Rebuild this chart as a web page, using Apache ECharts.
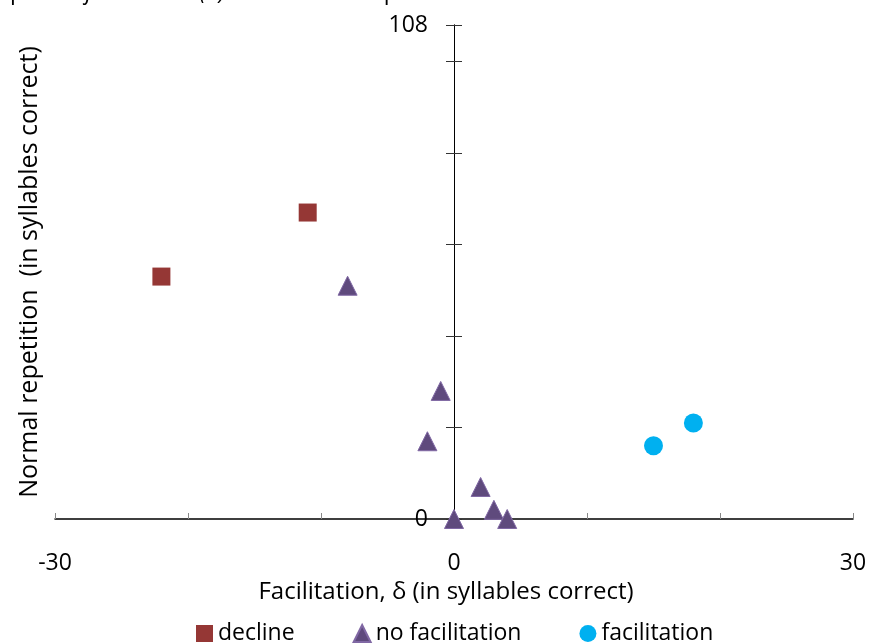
<!DOCTYPE html>
<html>
<head>
<meta charset="utf-8">
<script src="https://cdn.jsdelivr.net/npm/echarts@6/dist/echarts.min.js"></script>
<style>html,body{margin:0;padding:0;background:#fff}#c{width:869px;height:644px}</style>
</head>
<body>
<div id="c"></div>
<script>
const seriesNames = ['decline', 'no facilitation', 'facilitation'];
const declineData = [[-22, 53], [-11, 67]];
const noFacData = [[-8, 51], [-1, 28], [-2, 17], [2, 7], [3, 2], [4, 0], [0, 0]];
const facData = [[15, 16], [18, 21]];
const xTickLabels = [-30, 0, 30];
const yTickLabels = [0, 108];

const FONT = 'Open Sans';
const FS = 23;
const chart = echarts.init(document.getElementById('c'));
const Y = { min: 0, max: 108, interval: 20 };
const X = { min: -30, max: 30, interval: 10 };
const option = {
  backgroundColor: '#fff',
  animation: false,
  textStyle: { fontFamily: FONT, color: '#000' },
  graphic: [{
    type: 'text', left: 10, top: -19,
    style: {
      text: 'plot of {i|facilitation (δ)} and normal repetition.',
      fontFamily: FONT, fontSize: FS, fill: '#000',
      rich: { i: { fontStyle: 'italic', fontFamily: FONT, fontSize: FS } }
    }
  }],
  grid: [
    { left: 55, right: 16, top: 25, bottom: 125, outerBoundsMode: 'none' },
    { left: 454, right: 16, top: 25, bottom: 125, outerBoundsMode: 'none' },
    { left: 55, right: 415, top: 25, bottom: 125, outerBoundsMode: 'none' }
  ],
  legend: {
    data: seriesNames,
    left: 196, top: 622, padding: 0,
    itemWidth: 17, itemHeight: 17, itemGap: 58,
    textStyle: { fontFamily: FONT, fontSize: FS, color: '#000' }
  },
  xAxis: [{
    gridIndex: 0, type: 'value', min: X.min, max: X.max, interval: X.interval,
    name: 'Facilitation, δ (in syllables correct)',
    nameLocation: 'middle', nameGap: 61,
    nameTextStyle: { fontFamily: FONT, fontSize: 24, color: '#000', padding: [0, 16, 0, 0] },
    axisLine: { onZero: false, lineStyle: { color: '#000', width: 1.5 } },
    axisTick: { show: true, inside: true, length: 6, lineStyle: { color: '#888' } },
    axisLabel: {
      margin: 33, fontFamily: FONT, fontSize: FS, color: '#000',
      formatter: v => (xTickLabels.indexOf(v) >= 0 ? String(v) : '')
    },
    splitLine: { show: false }
  }, {
    gridIndex: 1, type: 'value', min: 0, max: 30, show: false
  }, {
    gridIndex: 2, type: 'value', min: -30, max: 0, show: false
  }],
  yAxis: [{
    gridIndex: 0, type: 'value', min: Y.min, max: Y.max, interval: Y.interval, show: false
  }, {
    gridIndex: 1, type: 'value', min: Y.min, max: Y.max, interval: Y.interval, position: 'left',
    name: 'Normal repetition  (in syllables correct)',
    nameLocation: 'middle', nameGap: 412,
    nameTextStyle: { fontFamily: FONT, fontSize: 25, color: '#000' },
    axisLine: { show: true, onZero: false, lineStyle: { color: '#000', width: 1 } },
    axisTick: { show: true, inside: false, length: 8, lineStyle: { color: '#333' } },
    axisLabel: {
      margin: 26, fontFamily: FONT, fontSize: FS, color: '#000',
      formatter: v => (yTickLabels.indexOf(v) >= 0 ? String(v) : '')
    },
    splitLine: { show: false }
  }, {
    gridIndex: 2, type: 'value', min: Y.min, max: Y.max, interval: Y.interval, position: 'right',
    axisLine: { show: true, onZero: false, lineStyle: { color: '#000', width: 1 } },
    axisTick: { show: true, inside: false, length: 8, lineStyle: { color: '#333' } },
    axisLabel: { show: false },
    splitLine: { show: false }
  }],
  series: [{
    name: seriesNames[0], type: 'scatter', data: declineData, xAxisIndex: 0, yAxisIndex: 0,
    symbol: 'rect', symbolSize: 18,
    itemStyle: { color: '#953735', opacity: 1 }
  }, {
    name: seriesNames[1], type: 'scatter', data: noFacData, xAxisIndex: 0, yAxisIndex: 0,
    symbol: 'triangle', symbolSize: 19,
    itemStyle: { color: '#5F4A7D', borderColor: '#8068A4', borderWidth: 1, opacity: 1 }
  }, {
    name: seriesNames[2], type: 'scatter', data: facData, xAxisIndex: 0, yAxisIndex: 0,
    symbol: 'circle', symbolSize: 19,
    itemStyle: { color: '#00B0F0', opacity: 1 }
  }]
};
chart.setOption(option);
</script>
</body>
</html>
